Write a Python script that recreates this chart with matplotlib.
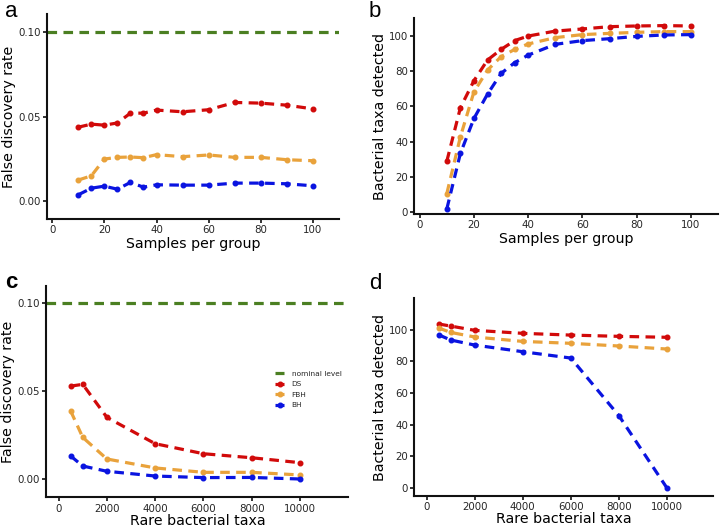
import numpy as np
import matplotlib
matplotlib.use('Agg')
import matplotlib.pyplot as plt

# panel a / b : samples per group
samples = [10, 15, 20, 25, 30, 35, 40, 50, 60, 70, 80, 90, 100]
fdr_a_ds = [0.0437, 0.0455, 0.0449, 0.0462, 0.0520, 0.0520, 0.0538, 0.0528, 0.0540, 0.0583, 0.0579, 0.0567, 0.0545]
fdr_a_fbh = [0.0125, 0.0150, 0.0249, 0.0259, 0.0261, 0.0257, 0.0275, 0.0263, 0.0273, 0.0259, 0.0259, 0.0245, 0.0239]
fdr_a_bh = [0.0038, 0.0077, 0.0089, 0.0071, 0.0111, 0.0083, 0.0097, 0.0095, 0.0095, 0.0107, 0.0107, 0.0103, 0.0091]

det_b_ds = [28.9, 59.2, 74.5, 86.2, 92.2, 97.2, 99.8, 102.6, 103.8, 105.1, 105.5, 105.7, 105.5]
det_b_fbh = [10.6, 42.7, 68.2, 80.5, 88.1, 92.2, 95.3, 98.9, 100.6, 101.3, 101.9, 102.3, 102.3]
det_b_bh = [1.9, 33.3, 53.1, 66.9, 78.6, 84.7, 89.0, 95.1, 97.2, 98.3, 99.6, 100.4, 100.6]

# panel c / d : rare bacterial taxa
rare = [500, 1000, 2000, 4000, 6000, 8000, 10000]
fdr_c_ds = [0.0529, 0.0539, 0.0351, 0.0201, 0.0144, 0.0121, 0.0093]
fdr_c_fbh = [0.0387, 0.0237, 0.0114, 0.0063, 0.0038, 0.0038, 0.0023]
fdr_c_bh = [0.0131, 0.0074, 0.0044, 0.0017, 0.0008, 0.0009, 0.0000]

det_d_ds = [103.6, 102.3, 99.6, 97.7, 96.6, 95.8, 95.2]
det_d_fbh = [101.1, 98.3, 95.4, 92.6, 91.4, 89.7, 87.8]
det_d_bh = [96.8, 93.5, 90.3, 86.1, 82.1, 45.7, 0.0]

nominal = 0.10

c_ds = '#d10a0a'
c_fbh = '#e9a23b'
c_bh = '#0a14e0'
c_nom = '#4b7f22'

dash = (0, (3, 2))
lw = 2.3

fig = plt.figure(figsize=(7.2, 5.27), dpi=100)

ax_a = fig.add_axes([0.0653, 0.5844, 0.4055, 0.389])
ax_b = fig.add_axes([0.5754, 0.5939, 0.4218, 0.3719])
ax_c = fig.add_axes([0.0643, 0.0564, 0.4195, 0.4009])
ax_d = fig.add_axes([0.5754, 0.0588, 0.4153, 0.3757])


def style(ax):
    for s in ['top', 'right']:
        ax.spines[s].set_visible(False)
    for s in ['left', 'bottom']:
        ax.spines[s].set_linewidth(1.5)
        ax.spines[s].set_color('#111111')
    ax.tick_params(labelsize=7.4, labelcolor='#262626', color='#111111', length=3, width=1.2, pad=1.5)


def series(ax, x, ys):
    kw = dict(linestyle=dash, linewidth=lw, marker='o', markersize=3.3)
    ax.plot(x, ys[0], color=c_ds, label='DS', **kw)
    ax.plot(x, ys[1], color=c_fbh, label='FBH', **kw)
    ax.plot(x, ys[2], color=c_bh, label='BH', **kw)


# a
ax_a.axhline(nominal, color=c_nom, linestyle=dash, linewidth=lw)
series(ax_a, samples, [fdr_a_ds, fdr_a_fbh, fdr_a_bh])
ax_a.set_xlim(-2, 110)
ax_a.set_ylim(-0.0105, 0.1105)
ax_a.set_xticks([0, 20, 40, 60, 80, 100])
ax_a.set_yticks([0.0, 0.05, 0.10])
ax_a.set_yticklabels(['0.00', '0.05', '0.10'])
ax_a.set_xlabel('Samples per group', fontsize=10.2, labelpad=1)
ax_a.set_ylabel('False discovery rate', fontsize=10.3, labelpad=1.5)
style(ax_a)

# b
series(ax_b, samples, [det_b_ds, det_b_fbh, det_b_bh])
ax_b.set_xlim(-2, 110)
ax_b.set_ylim(-1, 110)
ax_b.set_xticks([0, 20, 40, 60, 80, 100])
ax_b.set_yticks([0, 20, 40, 60, 80, 100])
ax_b.set_xlabel('Samples per group', fontsize=10.2, labelpad=1)
ax_b.set_ylabel('Bacterial taxa detected', fontsize=10.2, labelpad=1.5)
style(ax_b)

# c
ax_c.axhline(nominal, color=c_nom, linestyle=dash, linewidth=lw, label='nominal level')
series(ax_c, rare, [fdr_c_ds, fdr_c_fbh, fdr_c_bh])
ax_c.set_xlim(-510, 12000)
ax_c.set_ylim(-0.0104, 0.1099)
ax_c.set_xticks([0, 2000, 4000, 6000, 8000, 10000])
ax_c.set_yticks([0.0, 0.05, 0.10])
ax_c.set_yticklabels(['0.00', '0.05', '0.10'])
ax_c.set_xlabel('Rare bacterial taxa', fontsize=10.2, labelpad=0)
ax_c.set_ylabel('False discovery rate', fontsize=10.3, labelpad=1.5)
style(ax_c)
ax_c.legend(loc='upper left', bbox_to_anchor=(0.757, 0.6), frameon=False, fontsize=5.3,
            handlelength=1.25, handletextpad=1.0, labelspacing=0.6, borderpad=0,
            borderaxespad=0, labelcolor='#262626')

# d
series(ax_d, rare, [det_d_ds, det_d_fbh, det_d_bh])
ax_d.set_xlim(-510, 11925)
ax_d.set_ylim(-5, 120)
ax_d.set_xticks([0, 2000, 4000, 6000, 8000, 10000])
ax_d.set_yticks([0, 20, 40, 60, 80, 100])
ax_d.set_xlabel('Rare bacterial taxa', fontsize=10.2, labelpad=0)
ax_d.set_ylabel('Bacterial taxa detected', fontsize=10.2, labelpad=1.5)
style(ax_d)

# panel letters
lt = dict(fontsize=16, va='baseline', ha='left', family='Liberation Sans')
fig.text(0.007, 0.968, 'a', **lt)
fig.text(0.5125, 0.968, 'b', **lt)
fig.text(0.007, 0.4535, 'c', fontweight='bold', **lt)
fig.text(0.5125, 0.451, 'd', **lt)

fig.savefig('out.png', dpi=100)
